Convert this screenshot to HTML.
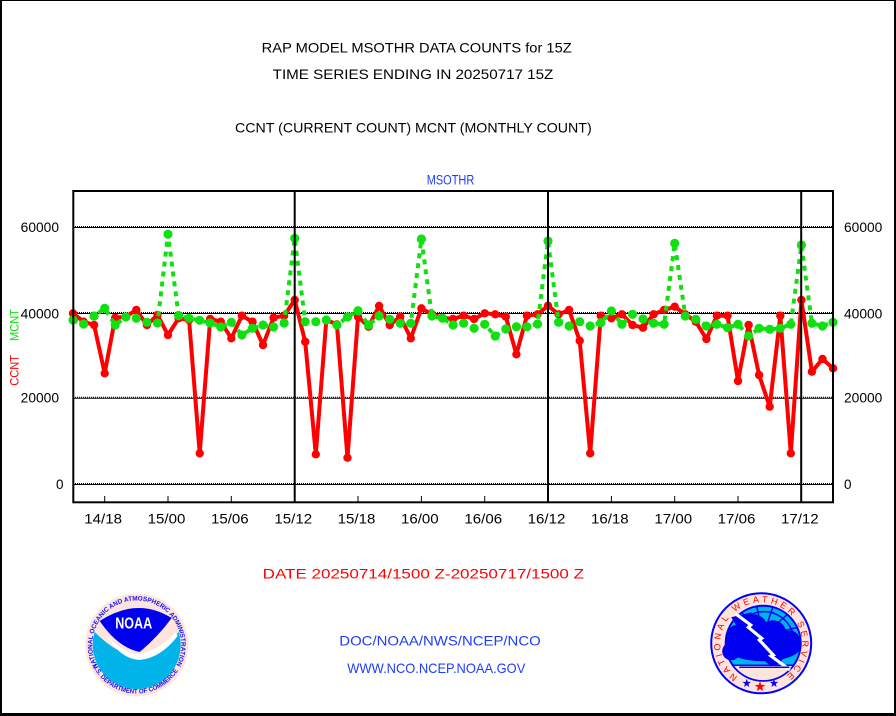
<!DOCTYPE html>
<html><head><meta charset="utf-8"><title>RAP MODEL MSOTHR DATA COUNTS</title>
<style>
html,body{margin:0;padding:0;background:#fff;}
svg{display:block;}
text{font-family:"Liberation Sans",sans-serif;}
</style></head><body>
<svg width="896" height="716" viewBox="0 0 896 716" xmlns="http://www.w3.org/2000/svg">
<defs>
<marker id="mr" markerWidth="10" markerHeight="10" refX="5" refY="5" markerUnits="userSpaceOnUse" overflow="visible"><circle cx="5" cy="5" r="4.2" fill="#ff0000"/></marker>
<marker id="mg" markerWidth="10" markerHeight="10" refX="5" refY="5" markerUnits="userSpaceOnUse" overflow="visible"><circle cx="5" cy="5" r="4.6" fill="#10e010"/></marker>
</defs>
<rect x="0" y="0" width="896" height="716" fill="#fff"/>
<!-- page border -->
<rect x="0" y="0" width="896" height="1" fill="#000"/>
<rect x="0" y="0" width="2" height="716" fill="#000"/>
<rect x="894" y="0" width="2" height="716" fill="#000"/>
<rect x="0" y="713" width="896" height="3" fill="#000"/>

<!-- titles -->
<text x="261.7" y="52.7" font-size="14" textLength="310" lengthAdjust="spacingAndGlyphs" fill="#000">RAP MODEL MSOTHR DATA COUNTS for 15Z</text>
<text x="272.7" y="79" font-size="14" textLength="280.6" lengthAdjust="spacingAndGlyphs" fill="#000">TIME SERIES ENDING IN 20250717 15Z</text>
<text x="235" y="132.7" font-size="14" textLength="356.7" lengthAdjust="spacingAndGlyphs" fill="#000">CCNT (CURRENT COUNT) MCNT (MONTHLY COUNT)</text>
<text x="426.7" y="184.3" font-size="13.5" textLength="47.6" lengthAdjust="spacingAndGlyphs" fill="#1e3cff">MSOTHR</text>

<!-- gridlines -->
<g stroke="#000" stroke-width="1">
<line x1="73" y1="227.5" x2="833" y2="227.5"/>
<line x1="73" y1="313.5" x2="833" y2="313.5"/>
<line x1="73" y1="398.2" x2="833" y2="398.2"/>
<line x1="73" y1="484.5" x2="833" y2="484.5"/>
</g>
<g stroke="#000" stroke-width="1" stroke-dasharray="1 1">
<line x1="73" y1="226.5" x2="833" y2="226.5"/>
<line x1="73" y1="312.5" x2="833" y2="312.5"/>
<line x1="73" y1="397.2" x2="833" y2="397.2"/>
<line x1="73" y1="483.5" x2="833" y2="483.5"/>
</g>

<!-- red series CCNT -->
<polyline fill="none" stroke="#ff0000" stroke-width="4" stroke-linejoin="round" marker-start="url(#mr)" marker-mid="url(#mr)" marker-end="url(#mr)" points="73.0,313.3 83.6,321.7 94.1,325 104.7,373.3 115.2,317.7 125.8,316.7 136.3,310 146.9,325 157.5,315 168.0,335 178.6,318.3 189.1,320 199.7,453.3 210.2,319 220.8,321.7 231.3,338.3 241.9,315.7 252.5,321.7 263.0,345 273.6,317.7 284.1,315.7 294.7,300 305.2,341.7 315.8,454.3 326.3,320 336.9,324.3 347.5,457.7 358.0,316.7 368.6,326.7 379.1,306 389.7,325 400.2,316.7 410.8,338.3 421.4,308.3 431.9,314.3 442.5,317.7 453.0,319 463.6,315.7 474.1,319 484.7,313.3 495.2,314.3 505.8,316.7 516.4,354.3 526.9,315.7 537.5,314.3 548.0,305.7 558.6,314.3 569.1,310 579.7,340.7 590.2,453.3 600.8,315.7 611.4,318.3 621.9,314.3 632.5,325 643.0,327.7 653.6,314.3 664.1,310 674.7,306.7 685.3,314.3 695.8,321.7 706.4,339 716.9,315.7 727.5,315.7 738.0,381 748.6,325 759.1,375 769.7,406.7 780.3,315.7 790.8,453.3 801.4,300 811.9,371.7 822.5,359 833.0,368.3"/>

<!-- green series MCNT -->
<polyline fill="none" stroke="#10e010" stroke-width="4" stroke-dasharray="5 5" marker-start="url(#mg)" marker-mid="url(#mg)" marker-end="url(#mg)" points="73.0,320 83.6,324 94.1,316 104.7,308.3 115.2,325 125.8,317 136.3,318.3 146.9,322.3 157.5,323 168.0,234.3 178.6,315.7 189.1,318.3 199.7,320.3 210.2,323 220.8,327 231.3,322.3 241.9,335 252.5,328.3 263.0,325 273.6,327 284.1,323 294.7,238.3 305.2,321.7 315.8,321.7 326.3,320 336.9,325 347.5,317 358.0,310.7 368.6,325 379.1,316 389.7,319.3 400.2,323.3 410.8,323.3 421.4,239 431.9,316 442.5,318.3 453.0,325 463.6,323.3 474.1,328.3 484.7,324.3 495.2,336 505.8,329 516.4,326.7 526.9,326.7 537.5,324 548.0,241 558.6,322.3 569.1,326 579.7,321.7 590.2,326 600.8,322.7 611.4,311 621.9,324.3 632.5,314.3 643.0,319 653.6,323.3 664.1,324.3 674.7,243.3 685.3,316 695.8,319.3 706.4,326 716.9,324.3 727.5,327.7 738.0,324.3 748.6,336 759.1,328.3 769.7,329.3 780.3,328.3 790.8,324.3 801.4,245 811.9,323.3 822.5,326 833.0,322.3"/>

<!-- frame and 12Z lines -->
<rect x="73.3" y="191" width="759.7" height="311.3" fill="none" stroke="#000" stroke-width="2"/>
<g stroke="#000" stroke-width="2">
<line x1="294.7" y1="191" x2="294.7" y2="502.3"/>
<line x1="548" y1="191" x2="548" y2="502.3"/>
<line x1="801.2" y1="191" x2="801.2" y2="502.3"/>
</g>
<g stroke="#000" stroke-width="1">
<line x1="104.7" y1="496" x2="104.7" y2="502"/>
<line x1="168" y1="496" x2="168" y2="502"/>
<line x1="231.3" y1="496" x2="231.3" y2="502"/>
<line x1="358" y1="496" x2="358" y2="502"/>
<line x1="421.4" y1="496" x2="421.4" y2="502"/>
<line x1="484.7" y1="496" x2="484.7" y2="502"/>
<line x1="611.4" y1="496" x2="611.4" y2="502"/>
<line x1="674.7" y1="496" x2="674.7" y2="502"/>
<line x1="738" y1="496" x2="738" y2="502"/>
</g>

<!-- y tick labels -->
<g font-size="13.5" fill="#000">
<text x="20.7" y="232" textLength="38.3" lengthAdjust="spacingAndGlyphs">60000</text>
<text x="20.7" y="318.3" textLength="38.3" lengthAdjust="spacingAndGlyphs">40000</text>
<text x="20.7" y="402.7" textLength="38.3" lengthAdjust="spacingAndGlyphs">20000</text>
<text x="56" y="489">0</text>
<text x="844" y="232" textLength="38.3" lengthAdjust="spacingAndGlyphs">60000</text>
<text x="844" y="318.3" textLength="38.3" lengthAdjust="spacingAndGlyphs">40000</text>
<text x="844" y="402.7" textLength="38.3" lengthAdjust="spacingAndGlyphs">20000</text>
<text x="844" y="489">0</text>
</g>

<!-- x tick labels -->
<g font-size="13.5" fill="#000">
<text x="84.3" y="523.3" textLength="37.7" lengthAdjust="spacingAndGlyphs">14/18</text>
<text x="147.7" y="523.3" textLength="37.7" lengthAdjust="spacingAndGlyphs">15/00</text>
<text x="211" y="523.3" textLength="37.7" lengthAdjust="spacingAndGlyphs">15/06</text>
<text x="274.4" y="523.3" textLength="37.7" lengthAdjust="spacingAndGlyphs">15/12</text>
<text x="337.7" y="523.3" textLength="37.7" lengthAdjust="spacingAndGlyphs">15/18</text>
<text x="401" y="523.3" textLength="37.7" lengthAdjust="spacingAndGlyphs">16/00</text>
<text x="464.4" y="523.3" textLength="37.7" lengthAdjust="spacingAndGlyphs">16/06</text>
<text x="527.7" y="523.3" textLength="37.7" lengthAdjust="spacingAndGlyphs">16/12</text>
<text x="591" y="523.3" textLength="37.7" lengthAdjust="spacingAndGlyphs">16/18</text>
<text x="654.4" y="523.3" textLength="37.7" lengthAdjust="spacingAndGlyphs">17/00</text>
<text x="717.7" y="523.3" textLength="37.7" lengthAdjust="spacingAndGlyphs">17/06</text>
<text x="781" y="523.3" textLength="37.7" lengthAdjust="spacingAndGlyphs">17/12</text>
</g>

<!-- y-axis title -->
<text transform="translate(18.7,385.7) rotate(-90)" font-size="11.5" fill="#ff0000" textLength="30.7" lengthAdjust="spacingAndGlyphs">CCNT</text>
<text transform="translate(18.7,341) rotate(-90)" font-size="11.5" fill="#10e010" textLength="32" lengthAdjust="spacingAndGlyphs">MCNT</text>

<!-- bottom texts -->
<text x="262.7" y="578.3" font-size="14" fill="#ff0000" textLength="321.3" lengthAdjust="spacingAndGlyphs">DATE 20250714/1500 Z-20250717/1500 Z</text>
<text x="339.3" y="645.7" font-size="14" fill="#1e3cff" textLength="201.4" lengthAdjust="spacingAndGlyphs">DOC/NOAA/NWS/NCEP/NCO</text>
<text x="347.3" y="673" font-size="14" fill="#1e3cff" textLength="178" lengthAdjust="spacingAndGlyphs">WWW.NCO.NCEP.NOAA.GOV</text>

<!-- NOAA logo -->
<g transform="translate(136.7,645)">
<circle r="51.5" fill="#fde4dc"/>
<path d="M -42,-13 C -25,4 -12,10 0,10 C 14,9 28,2 42,-13 A 44 44 0 1 1 -42,-13 Z" fill="#00b4ea"/>
<path d="M -30,-9 Q -12,9 2,9 Q 22,6 39,-13 L 41,-9 Q 24,13 3,15 Q -16,14 -30,-9 Z" fill="#ffffff"/>
<path d="M -37,-24 Q 0.5,-48.5 35,-27 Q 21,-8 3,7 Q -19,2.5 -37,-24 Z" fill="#0000f0"/>
<text x="-3" y="-16.5" font-size="16" font-weight="bold" fill="#ffffff" text-anchor="middle" textLength="37" lengthAdjust="spacingAndGlyphs">NOAA</text>
<path id="noaaTop" d="M -38.5,22.25 A 44.5 44.5 0 1 1 38.5,22.25" fill="none"/>
<path id="noaaBot" d="M -43.96,20.5 A 48.5 48.5 0 0 0 43.96,20.5" fill="none"/>
<text font-size="6.5" font-weight="bold" fill="#1010ff"><textPath href="#noaaTop" textLength="184" lengthAdjust="spacingAndGlyphs">NATIONAL OCEANIC AND ATMOSPHERIC ADMINISTRATION</textPath></text>
<text font-size="6.5" font-weight="bold" fill="#1010ff"><textPath href="#noaaBot" textLength="104" lengthAdjust="spacingAndGlyphs">U.S. DEPARTMENT OF COMMERCE</textPath></text>
</g>

<!-- NWS logo -->
<g transform="translate(761.2,643.3)">
<circle r="50" fill="#fde4dc" stroke="#0000ff" stroke-width="2"/>
<circle cx="2" cy="0" r="37.5" fill="#00b4ea" stroke="#0000ff" stroke-width="2"/>
<g stroke="#0000ff" stroke-width="1.5" fill="none">
<line x1="2" y1="-8" x2="-19.5" y2="-30.7"/>
<line x1="2" y1="-8" x2="-4.5" y2="-36.9"/>
<line x1="2" y1="-8" x2="11.7" y2="-36.2"/>
<line x1="2" y1="-8" x2="26.1" y2="-28.7"/>
<line x1="2" y1="-8" x2="36" y2="-15.8"/>
<path d="M -26,-10 A 30 30 0 0 1 31,-12"/>
</g>
<path d="M -28.4,22 L 32.4,22 A 37.5 37.5 0 0 1 -28.4,22 Z" fill="#fde4dc" stroke="#0000ff" stroke-width="1.5"/>
<g fill="#0000f0">
<ellipse cx="2" cy="3" rx="38" ry="15"/>
<circle cx="-22" cy="-5" r="14"/>
<circle cx="-8" cy="-14" r="15"/>
<circle cx="12" cy="-10" r="13"/>
<circle cx="28" cy="-2" r="11"/>
<circle cx="-30" cy="8" r="9"/>
<circle cx="12" cy="12" r="10"/>
<path d="M -30,-26 L -10,-31 L 0,-20 L -20,-10 Z"/>
</g>
<polyline points="-26.2,-30 -10.5,-18.3 -12.9,-16 0.5,-5 -1.9,-3.3 12.1,11.7 9.8,12.7 28.8,26.7" fill="none" stroke="#ffffff" stroke-width="3.2" stroke-linejoin="miter"/>
<line x1="-22" y1="24" x2="28" y2="24" stroke="#0000ff" stroke-width="1.5"/>
<polygon transform="translate(-14.5,40) scale(0.9)" fill="#0000ff" points="0,-5 1.18,-1.62 4.76,-1.55 1.9,0.62 2.94,4.05 0,2 -2.94,4.05 -1.9,0.62 -4.76,-1.55 -1.18,-1.62"/>
<polygon transform="translate(-1.2,43.4) scale(1.1)" fill="#ff0000" points="0,-5 1.18,-1.62 4.76,-1.55 1.9,0.62 2.94,4.05 0,2 -2.94,4.05 -1.9,0.62 -4.76,-1.55 -1.18,-1.62"/>
<polygon transform="translate(12.8,40) scale(0.9)" fill="#0000ff" points="0,-5 1.18,-1.62 4.76,-1.55 1.9,0.62 2.94,4.05 0,2 -2.94,4.05 -1.9,0.62 -4.76,-1.55 -1.18,-1.62"/>
<path id="nwsRing" d="M -23.5,33.6 A 41 41 0 1 1 23.5,33.6" fill="none"/>
<text font-size="9" fill="#ff0000"><textPath href="#nwsRing" textLength="205" lengthAdjust="spacing">NATIONAL WEATHER SERVICE</textPath></text>
</g>
</svg>
</body></html>
